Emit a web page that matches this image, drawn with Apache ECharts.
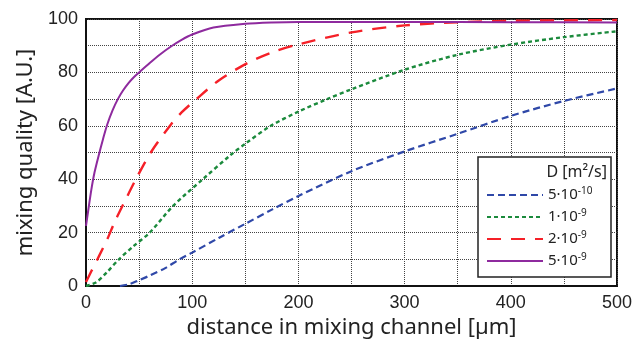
<!DOCTYPE html>
<html>
<head>
<meta charset="utf-8">
<script src="https://cdn.jsdelivr.net/npm/echarts@6/dist/echarts.min.js"></script>
<style>html,body{margin:0;padding:0;background:#fff;}#c{width:636px;height:346px;}</style>
</head>
<body>
<div id="c"></div>
<script>
// distances [µm] and mixing quality [A.U.]
const distBlue = [32, 40, 50, 60, 75, 88, 100, 125, 150, 175, 200, 250, 300, 350, 400, 450, 500];
const qualBlue = [0, 0.6, 2.2, 3.9, 6.8, 10, 12.5, 18, 23.3, 28.6, 33.7, 43, 50.4, 57, 63.7, 69.3, 74];

const distGreen = [0, 10, 20, 31, 45, 60, 82, 110, 136, 150, 174, 200, 227, 250, 300, 350, 400, 450, 500];
const qualGreen = [0, 1.5, 5.3, 10, 15, 20, 30, 40, 49, 53.3, 60, 65.3, 70, 73.7, 81, 86.6, 90.4, 93.2, 95.4];

const distRed = [0, 5, 12, 20, 27, 35, 47, 61, 80, 90, 104, 125, 152, 175, 200, 250, 300, 350, 400, 450, 500];
const qualRed = [1.5, 5.5, 11, 17.5, 24, 30.5, 40, 50, 60.5, 65, 70, 77, 83.5, 87.5, 90.5, 95, 97.6, 98.8, 99.3, 99.5, 99.6];

const distPurple = [0, 2, 5, 8, 12, 16, 20, 25, 30, 35, 40, 45, 50, 60, 70, 80, 90, 100, 120, 150, 175, 200, 300, 400, 500];
const qualPurple = [22.5, 28, 36, 42.5, 49, 55, 60.5, 65.8, 70, 73.3, 76, 78.2, 80, 83.5, 86.8, 89.7, 92.2, 94.2, 96.8, 98.2, 98.7, 98.9, 98.9, 98.8, 98.7];

const seriesNames = ['5·10^-10', '1·10^-9', '2·10^-9', '5·10^-9'];
const xTicks = [0, 100, 200, 300, 400, 500];
const yTicks = [0, 20, 40, 60, 80, 100];

const zip = (xs, ys) => xs.map((x, i) => [x, ys[i]]);

const chart = echarts.init(document.getElementById('c'), null, {renderer: 'canvas'});
const gridLine = {show: true, lineStyle: {color: '#444', type: [1, 1], width: 1}};
const mk = (name, data, color, width, dash) => ({
  name: name, type: 'line', data: data, showSymbol: false, symbol: 'none',
  smooth: 0.3,
  lineStyle: {color: color, width: width, type: dash},
  itemStyle: {color: color}
});

chart.setOption({
  animation: false,
  backgroundColor: '#fff',
  grid: {left: 86, right: 19, top: 19, bottom: 60, show: true, borderColor: '#111', borderWidth: 2, backgroundColor: 'transparent'},
  graphic: [{
    type: 'rect', z: 5, zlevel: 0,
    shape: {x: 478, y: 157, width: 133, height: 120},
    style: {fill: '#fff', stroke: '#222', lineWidth: 1.5}
  }],
  title: {
    text: 'D [m²/s]', right: 24, top: 159,
    textStyle: {fontFamily: 'Noto Sans', fontSize: 16, fontWeight: 'normal', color: '#222'},
    z: 20
  },
  legend: {
    orient: 'vertical', left: 486, top: 186,
    padding: 0, itemGap: 5.5, itemWidth: 56, itemHeight: 14,
    backgroundColor: 'transparent',
    data: seriesNames,
    itemStyle: {opacity: 0, borderWidth: 0},
    formatter: function (n) { const p = n.split('^'); return '{b|' + p[0] + '}{s|' + p[1] + '}'; },
    textStyle: {
      fontFamily: 'Noto Sans', fontSize: 15, color: '#222',
      rich: {
        b: {fontFamily: 'Noto Sans', fontSize: 15, color: '#222'},
        s: {fontFamily: 'Noto Sans', fontSize: 10, color: '#222', padding: [0, 0, 8, 0]}
      }
    },
    z: 10
  },
  xAxis: {
    type: 'value', min: 0, max: 500, interval: 50,
    name: 'distance in mixing channel [µm]', nameLocation: 'middle', nameGap: 31,
    nameTextStyle: {fontFamily: 'Noto Sans', fontSize: 22, color: '#222'},
    axisLine: {show: true, lineStyle: {color: '#111', width: 2}},
    axisTick: {show: false},
    axisLabel: {margin: 8, fontFamily: 'Liberation Sans', fontSize: 18, color: '#222',
      formatter: v => xTicks.indexOf(v) >= 0 ? String(v) : ''},
    splitLine: gridLine
  },
  yAxis: {
    type: 'value', min: 0, max: 100, interval: 10,
    name: 'mixing quality [A.U.]', nameLocation: 'middle', nameGap: 48,
    nameTextStyle: {fontFamily: 'Noto Sans', fontSize: 22, color: '#222'},
    axisLine: {show: true, lineStyle: {color: '#111', width: 2}},
    axisTick: {show: false},
    axisLabel: {margin: 8, fontFamily: 'Liberation Sans', fontSize: 18, color: '#222',
      formatter: v => yTicks.indexOf(v) >= 0 ? String(v) : ''},
    splitLine: gridLine
  },
  series: [
    mk(seriesNames[0], zip(distBlue, qualBlue), '#2f48a8', 2.2, [7, 4]),
    mk(seriesNames[1], zip(distGreen, qualGreen), '#1b8a3c', 2.4, [4, 3]),
    mk(seriesNames[2], zip(distRed, qualRed), '#f52028', 2.4, [14, 10]),
    mk(seriesNames[3], zip(distPurple, qualPurple), '#8e2a9e', 2, 'solid')
  ]
});
</script>
</body>
</html>
